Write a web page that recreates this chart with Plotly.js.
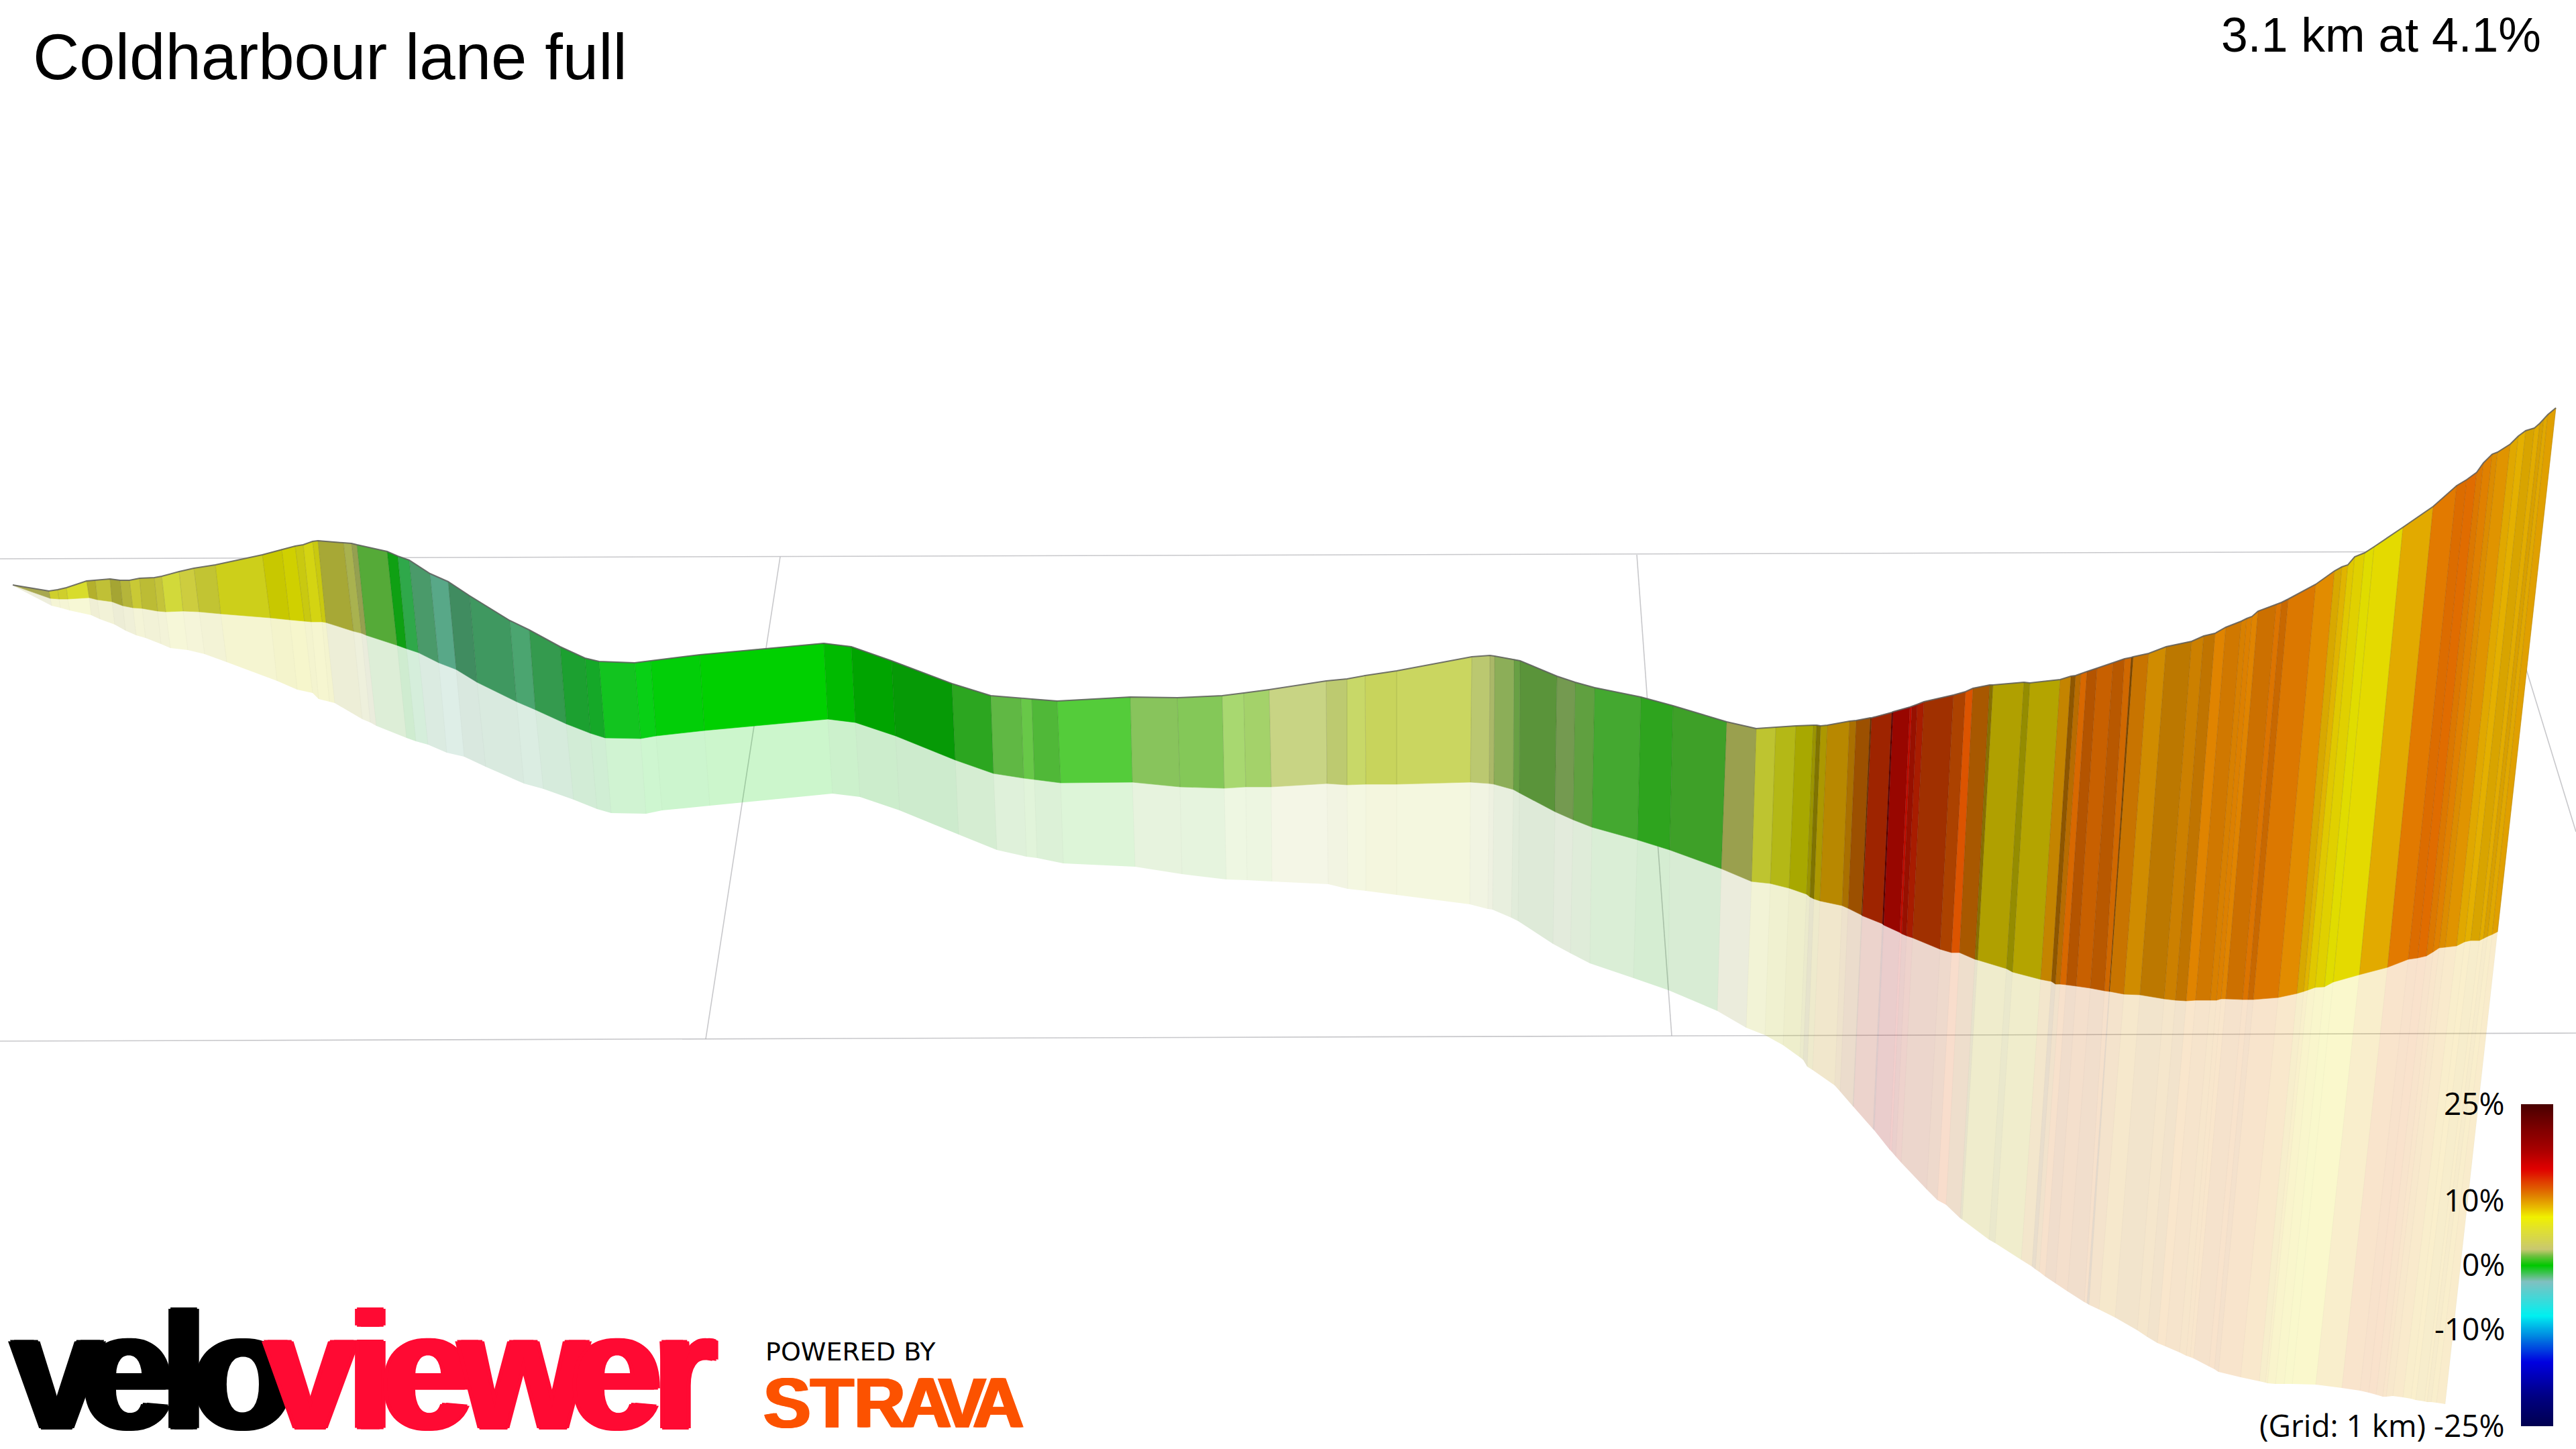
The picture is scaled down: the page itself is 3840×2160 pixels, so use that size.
<!DOCTYPE html>
<html><head><meta charset="utf-8">
<script src="https://cdn.plot.ly/plotly-3.0.1.min.js"></script>
<style>html,body{margin:0;padding:0;background:#fff}#c{width:3840px;height:2160px}</style>
</head><body><div id="c"></div><script>
const titleText = "Coldharbour lane full";
const statText = "3.1 km at 4.1%";
const legendLabels = ["25%","10%","0%","-10%","(Grid: 1 km) -25%"];
const legendValues = [25,10,0,-10,-25];
const rampLevels = [-25,-24,-23,-22,-21,-20,-19,-18,-17,-16,-15,-14,-13,-12,-11,-10,-9,-8,-7,-6,-5,-4,-3,-2,-1,0,1,2,3,4,5,6,7,8,9,10,11,12,13,14,15,16,17,18,19,20,21,22,23,24,25];
const rampStops = [[0,"#000050"],[0.09,"#000080"],[0.2,"#0000e0"],[0.277,"#0080e0"],[0.344,"#00f0f0"],[0.45,"#80c0c0"],[0.465,"#60c080"],[0.5,"#00c800"],[0.53,"#70c040"],[0.55,"#c8c870"],[0.61,"#e0e030"],[0.65,"#f0f000"],[0.716,"#e08000"],[0.8,"#e00000"],[0.86,"#a80000"],[0.93,"#7a0000"],[1,"#4a0000"]];

const topX = [19,73,86,99,129,142,164,179,193,208,230,241,267,289,321,391,420,440,452,466,474,512,524,532,577,593,610,641,668,700,760,789,835,872,893,946,970,1043,1228,1269,1329,1419,1477,1522,1538,1576,1685,1755,1822,1854,1892,1977,2008,2035,2082,2194,2221,2228,2257,2266,2321,2348,2377,2446,2494,2574,2618,2647,2677,2703,2708,2714,2724,2757,2767,2788,2790,2820,2822,2847,2850,2858,2868,2912,2930,2941,2966,2971,3017,3026,3071,3087,3094,3102,3111,3126,3150,3167,3177,3180,3203,3229,3267,3285,3302,3318,3341,3349,3357,3366,3393,3401,3411,3452,3480,3491,3500,3510,3525,3539,3582,3627,3662,3677,3692,3702,3715,3723,3742,3754,3765,3778,3786,3792,3798,3810];
const topY = [872,881,879,876,866,865,863,865,865,862,861,859,852,847,842,827,819,814,812,807,806,809,810,812,822,829,835,855,867,888,925,939,964,981,986,988,985,976,959,964,985,1019,1037,1041,1042,1045,1039,1040,1037,1033,1028,1015,1012,1007,1000,979,977,978,983,985,1008,1017,1025,1039,1052,1076,1086,1084,1082,1081,1081,1082,1081,1075,1074,1070,1070,1062,1061,1054,1053,1050,1046,1036,1031,1026,1021,1021,1017,1018,1013,1008,1007,1004,1001,996,988,982,980,979,974,964,956,948,944,935,926,922,919,911,901,898,893,871,851,845,842,830,824,815,786,755,724,715,704,690,677,674,662,650,642,638,631,625,618,608];
const baseX = [21,75,88,101,133,145,167,183,198,212,235,247,273,297,329,403,432,454,464,480,486,527,539,546,592,606,624,654,680,711,770,798,844,880,902,955,978,1050,1234,1275,1335,1424,1481,1526,1542,1581,1688,1759,1825,1857,1895,1978,2008,2036,2082,2192,2220,2227,2256,2265,2318,2345,2373,2441,2489,2566,2611,2639,2667,2693,2698,2704,2713,2746,2755,2775,2776,2806,2808,2832,2835,2842,2851,2892,2909,2921,2944,2948,2991,3000,3042,3058,3064,3071,3080,3095,3116,3137,3144,3145,3166,3190,3226,3243,3259,3273,3295,3304,3311,3318,3343,3351,3359,3396,3424,3434,3440,3451,3465,3478,3517,3559,3590,3604,3617,3627,3636,3645,3662,3674,3683,3696,3702,3708,3715,3723];
const baseY = [873,892,893,893,891,894,897,903,906,907,911,912,911,912,915,921,924,926,927,927,928,941,944,947,962,967,973,988,998,1017,1046,1058,1079,1093,1100,1101,1097,1089,1072,1077,1097,1133,1153,1160,1162,1167,1166,1173,1175,1173,1173,1168,1170,1169,1169,1166,1168,1169,1177,1182,1210,1222,1233,1252,1267,1295,1314,1317,1324,1333,1337,1340,1343,1350,1354,1364,1365,1377,1379,1390,1392,1395,1398,1415,1420,1420,1430,1431,1444,1449,1460,1463,1467,1467,1468,1470,1473,1477,1478,1478,1482,1483,1489,1491,1492,1491,1491,1491,1489,1489,1490,1490,1490,1487,1481,1478,1476,1472,1471,1464,1453,1442,1430,1428,1425,1419,1413,1412,1410,1404,1402,1402,1399,1396,1393,1389];
const shadowX = [23,77,90,104,136,149,171,187,203,217,240,254,280,305,338,413,443,466,475,491,499,540,552,561,606,620,638,666,692,724,781,810,855,890,911,963,987,1058,1241,1282,1341,1429,1486,1530,1546,1585,1692,1762,1828,1859,1896,1980,2009,2036,2082,2191,2218,2225,2253,2263,2315,2341,2370,2435,2487,2560,2603,2631,2658,2683,2688,2694,2702,2735,2743,2762,2763,2792,2794,2817,2820,2826,2834,2872,2888,2901,2922,2925,2965,2974,3013,3029,3034,3040,3049,3064,3082,3107,3111,3114,3129,3153,3186,3201,3216,3228,3249,3259,3265,3270,3293,3301,3307,3340,3368,3377,3380,3392,3405,3417,3452,3491,3518,3531,3542,3552,3557,3567,3582,3594,3601,3614,3618,3624,3632,3645];
const shadowY = [875,903,906,910,917,923,931,940,947,951,960,966,969,975,987,1015,1028,1033,1042,1046,1048,1072,1077,1082,1100,1105,1110,1122,1128,1143,1168,1176,1192,1206,1212,1213,1208,1201,1183,1188,1208,1244,1267,1277,1279,1287,1292,1303,1311,1312,1314,1318,1325,1328,1334,1348,1355,1356,1368,1373,1407,1421,1436,1458,1476,1507,1532,1543,1558,1576,1580,1590,1595,1618,1627,1649,1650,1683,1685,1714,1717,1724,1733,1773,1789,1796,1816,1818,1848,1853,1878,1888,1892,1896,1903,1913,1925,1941,1943,1945,1952,1964,1983,1993,2002,2007,2016,2021,2023,2025,2037,2041,2045,2053,2059,2061,2062,2063,2063,2063,2064,2069,2073,2076,2079,2082,2082,2081,2083,2085,2087,2089,2090,2090,2091,2093];
const segColors = ["a8a850","cfcf2c","cfcf2c","d8dc2c","b4b02c","c0c036","a5a533","b5b53a","c9c935","bcbc35","c4c43a","d2d93a","cdcd3f","c2c433","cdcf1a","c8c800","d0d000","c9c910","d4d412","c9c910","a7a836","a9b24f","95a050","55aa38","0fa013","2fa84a","4a9a6a","58a888","408c60","3f9860","4ba570","349a4e","1ca030","15a828","12c41f","08d015","02ce08","00d000","00ba00","00a400","069a06","2ca620","60b844","68c848","50b838","54cc3a","88c45c","84c858","a8d870","a4d26a","c8d484","bdca70","c8d868","c8d45c","cad660","bbc870","aab868","8cae58","68a044","5a943a","749a50","60a040","44a830","2ea41e","3ea028","9aa04e","bec430","b4b816","a8a800","9a9400","807400","ac9800","b88800","aa7000","9c5000","6a3000","9e2400","5a0000","980600","c00c00","981000","a81c00","a03000","ac4200","dc5400","a85800","887000","b0a000","948c00","b4a400","c48400","8e5600","b86c00","d86800","b45400","c86000","b85800","d06800","7c4800","c87400","d08c00","bc7800","cc8000","c07400","e08400","d07800","d88000","dc8000","e08400","cc7000","dc7400","c86800","dc7800","e28c00","d8a800","e0b400","e0c800","e0d000","e0dc00","e4da00","e2aa00","e27a00","dc6c00","e06c00","dc7800","e08000","dc8c00","e09400","e0a800","e4b000","d8a400","e2ac00","d8a000","e0a800","e0a000"];

const gridLineX = [[0,3712],[0,3840],[1163,1052],[2440,2492],[3712,3840]];
const gridLineY = [[833,822],[1552,1540],[830,1549],[827,1544],[822,1240]];

const logoLetters = ["v","e","l","o","v","i","e","w","e","r"];
const logoCentres = [85,190,274,362,463,552,636,780,918,1020];
const logoColours = ["#000","#000","#000","#000","#ff0a33","#ff0a33","#ff0a33","#ff0a33","#ff0a33","#ff0a33"];
const stravaLetters = ["S","T","R","A","V","A"];
const stravaCentres = [1173,1240,1311,1380,1434,1488];

function rgba(h,a){const n=parseInt(h,16);return `rgba(${n>>16},${(n>>8)&255},${n&255},${a})`;}
const traces=[];
const off={hoverinfo:"skip",showlegend:false,xaxis:"x",yaxis:"y",mode:"lines"};
gridLineX.forEach((g,i)=>traces.push({...off,type:"scatter",x:g,y:gridLineY[i],line:{color:"rgba(170,170,175,0.65)",width:1.6}}));
segColors.forEach((c,i)=>traces.push({...off,type:"scatter",fill:"toself",fillcolor:rgba(c,0.2),line:{width:0},
  x:[baseX[i],baseX[i+1],shadowX[i+1],shadowX[i]],y:[baseY[i],baseY[i+1],shadowY[i+1],shadowY[i]]}));
segColors.forEach((c,i)=>traces.push({...off,type:"scatter",fill:"toself",fillcolor:"#"+c,line:{width:0.6,color:"#"+c},
  x:[topX[i],topX[i+1],baseX[i+1],baseX[i]],y:[topY[i],topY[i+1],baseY[i+1],baseY[i]]}));
const dx=[],dy=[],sx=[],sy=[];
topX.forEach((v,i)=>{dx.push(v,baseX[i],null);dy.push(topY[i],baseY[i],null);sx.push(baseX[i],shadowX[i],null);sy.push(baseY[i],shadowY[i],null);});
traces.push({...off,type:"scatter",x:sx,y:sy,line:{color:"rgba(0,0,0,0.025)",width:1.2}});
traces.push({...off,type:"scatter",x:dx,y:dy,line:{color:"rgba(0,0,0,0.1)",width:1.2}});
traces.push({...off,type:"scatter",x:topX,y:topY,line:{color:"rgba(95,95,95,0.85)",width:2}});
traces.push({type:"heatmap",hoverinfo:"skip",xaxis:"x2",yaxis:"y2",x:[0,1],y:rampLevels,z:rampLevels.map(v=>[v,v]),zmin:-25,zmax:25,zsmooth:"best",colorscale:rampStops,showscale:false});

const ann=[];
const sans="'Open Sans', 'Noto Sans', sans-serif";
legendLabels.forEach((t,i)=>ann.push({xref:"x",yref:"y2",x:3736,y:legendValues[i],yshift:2,text:t,showarrow:false,xanchor:"right",yanchor:"middle",font:{family:sans,size:46,color:"#000"}}));
ann.push({xref:"x",yref:"y",x:3790,y:52,text:statText,showarrow:false,xanchor:"right",yanchor:"middle",font:{family:"'Liberation Sans',Arial,sans-serif",size:71.5,color:"#000"}});
logoLetters.forEach((t,i)=>{const c=logoColours[i];ann.push({xref:"x",yref:"y",x:logoCentres[i],y:2044,text:t,showarrow:false,xanchor:"center",yanchor:"middle",font:{family:"'Liberation Sans',Arial,sans-serif",weight:700,size:245,color:c,shadow:`6px 0 0 ${c}, -6px 0 0 ${c}, 3px 2px 0 ${c}, -3px -2px 0 ${c}, 3px -2px 0 ${c}, -3px 2px 0 ${c}`}})});
ann.push({xref:"x",yref:"y",x:1139,y:2015,text:"POWERED BY",showarrow:false,xanchor:"left",yanchor:"middle",font:{family:"'DejaVu Sans',sans-serif",size:38,color:"#000"}});
stravaLetters.forEach((t,i)=>ann.push({xref:"x",yref:"y",x:stravaCentres[i],y:2091,text:t,showarrow:false,xanchor:"center",yanchor:"middle",font:{family:"'Liberation Sans',Arial,sans-serif",weight:700,size:106,color:"#fc5200",shadow:"2px 0 0 #fc5200, -2px 0 0 #fc5200"}}));

const hidden={visible:false,fixedrange:true};
const layout={width:3840,height:2160,margin:{l:0,r:0,t:0,b:0},paper_bgcolor:"#fff",plot_bgcolor:"#fff",showlegend:false,
 title:{text:titleText,x:49/3840,xanchor:"left",xref:"paper",y:1-84/2160,yanchor:"middle",yref:"paper",font:{family:"'Liberation Sans',Arial,sans-serif",size:96,color:"#000"}},
 xaxis:{...hidden,range:[0,3840],domain:[0,1]},
 yaxis:{...hidden,range:[2160,0],domain:[0,1]},
 xaxis2:{...hidden,range:[0,1],domain:[3758/3840,3806/3840],anchor:"y2"},
 yaxis2:{...hidden,range:[-25,25],domain:[34/2160,514/2160],anchor:"x2"},
 annotations:ann};
Plotly.newPlot("c",traces,layout,{displayModeBar:false,staticPlot:true});
</script></body></html>
